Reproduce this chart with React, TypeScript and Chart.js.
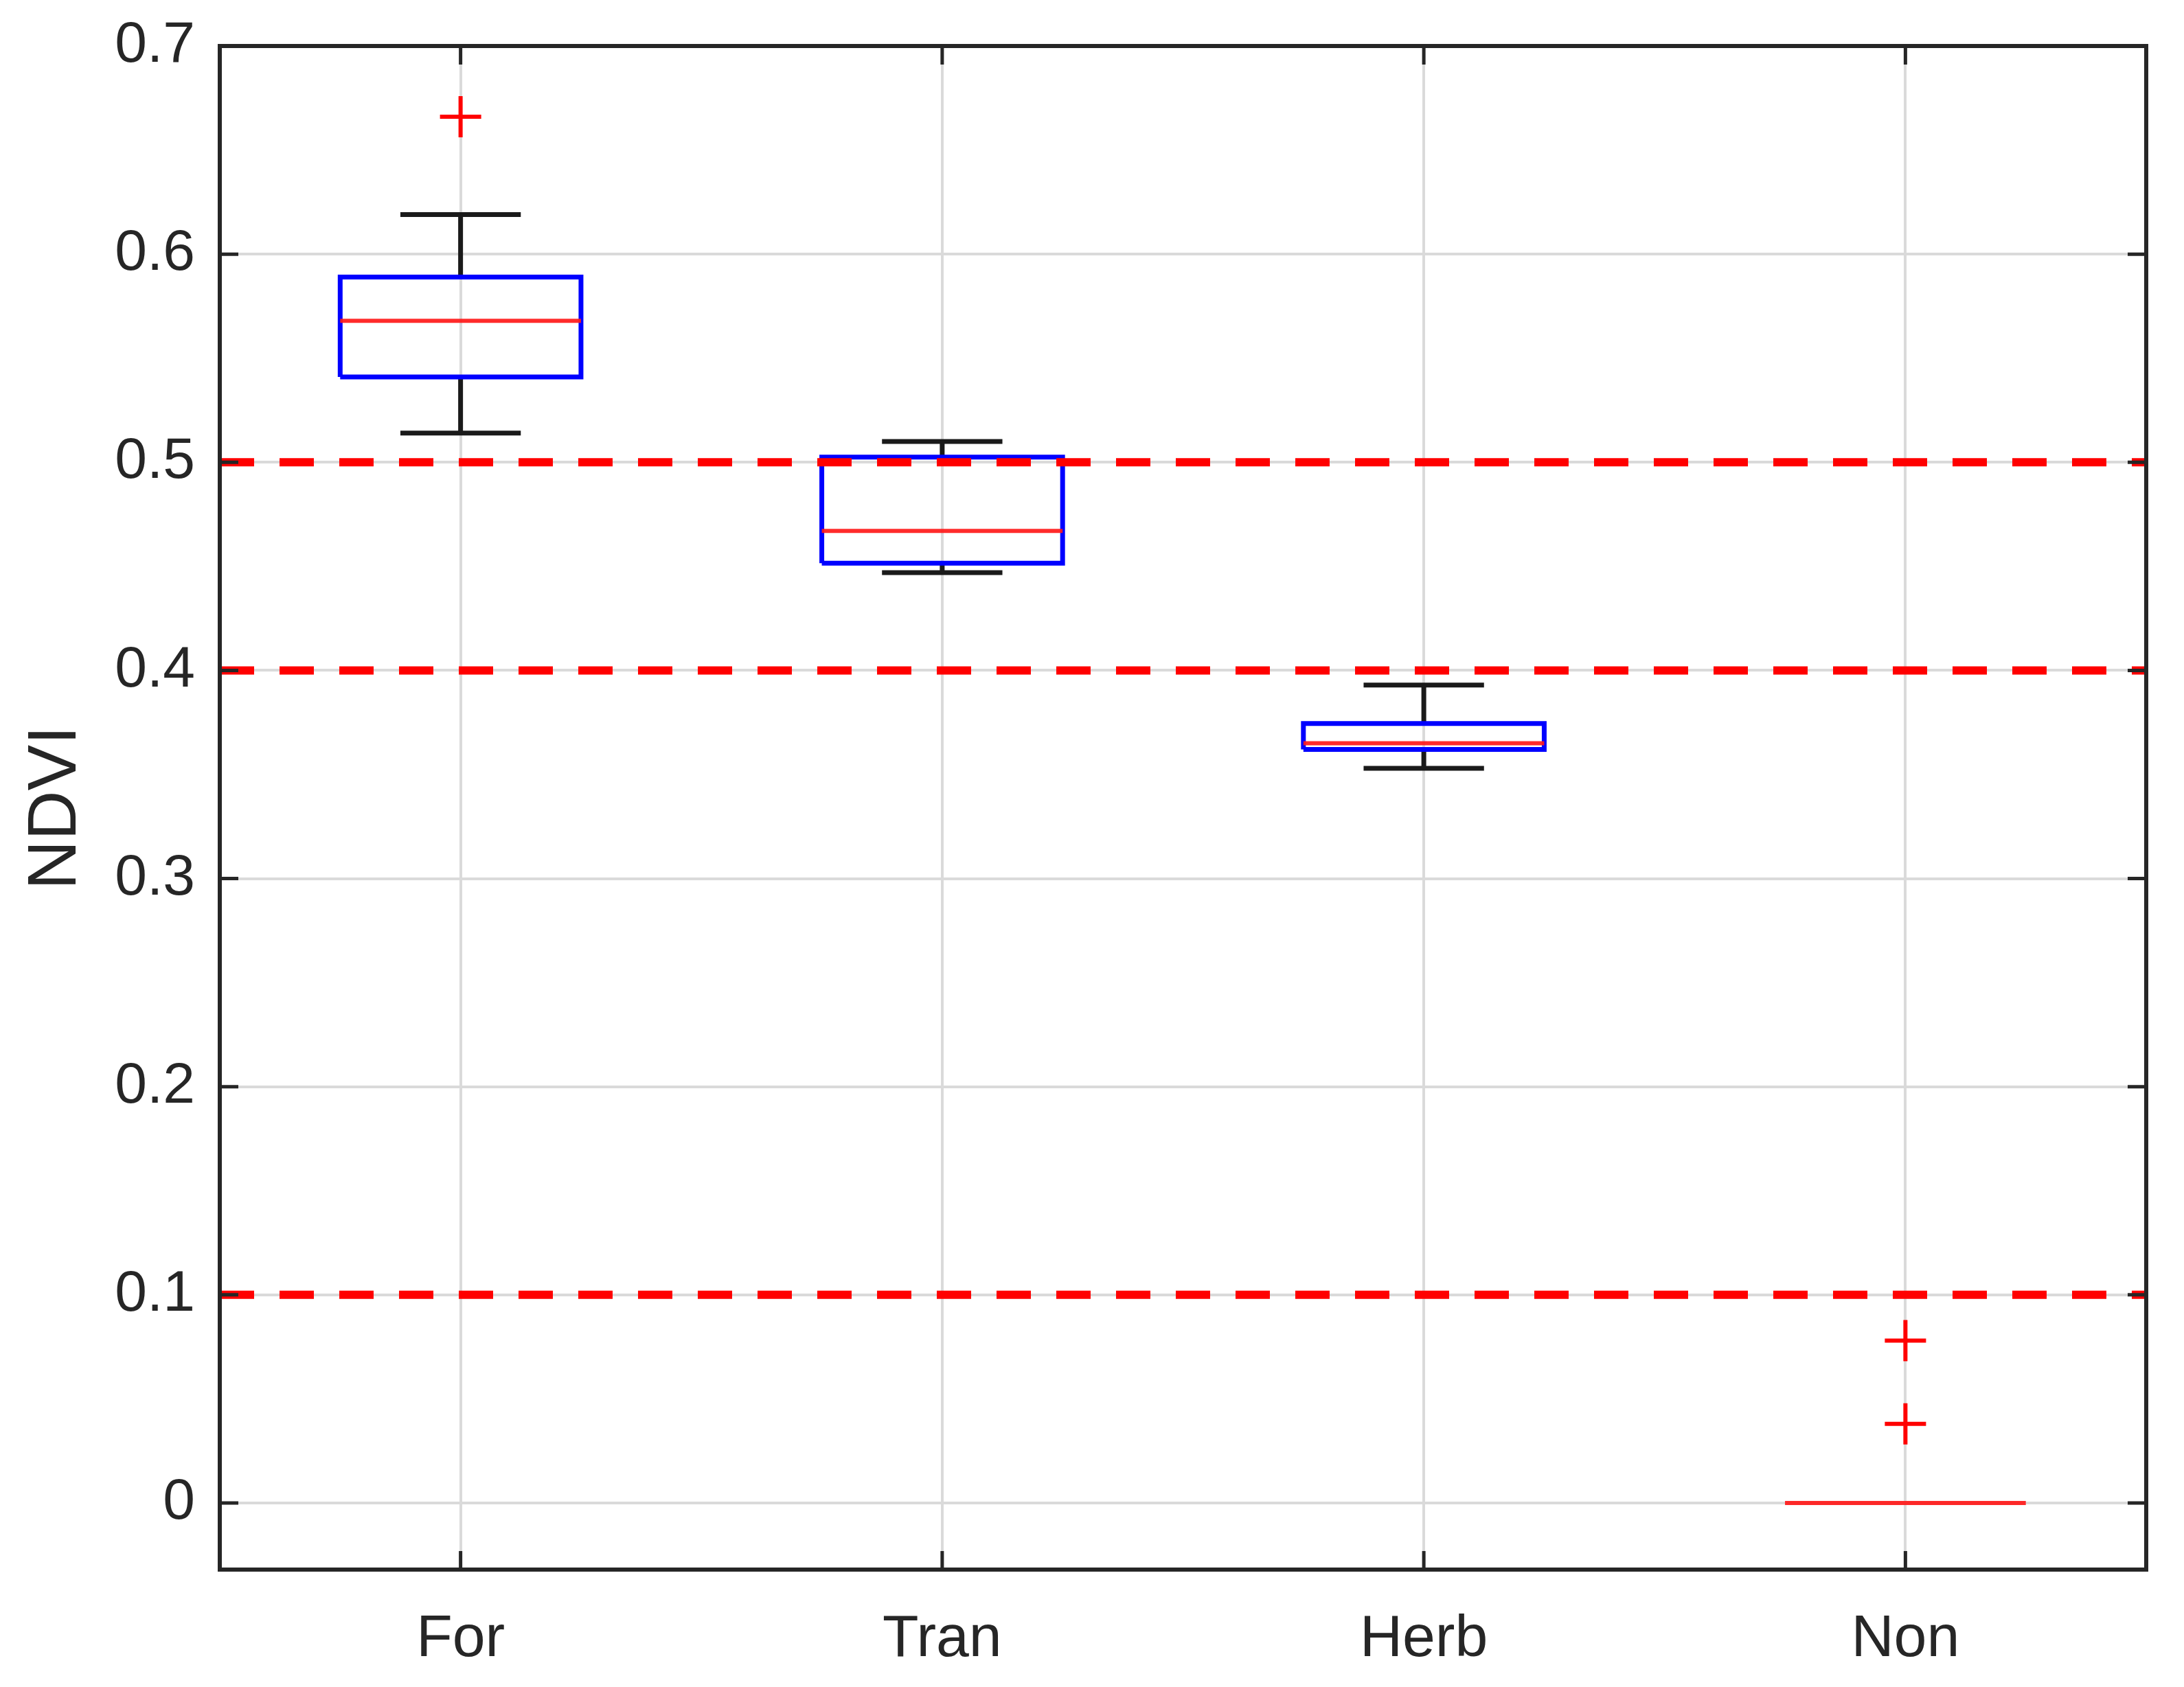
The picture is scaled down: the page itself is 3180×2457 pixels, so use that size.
import React, { useEffect, useRef } from "react";
import { Chart, registerables } from "chart.js";

Chart.register(...registerables);

// ---- data ----
const categories = ["For", "Tran", "Herb", "Non"];
const whiskerLow = [0.514, 0.447, 0.353, 0];
const quartile1 = [0.541, 0.4515, 0.362, 0];
const medians = [0.568, 0.467, 0.365, 0];
const quartile3 = [0.589, 0.5025, 0.3745, 0];
const whiskerHigh = [0.619, 0.51, 0.393, 0];
const outlierPositions = [1, 4, 4];
const outlierValues = [0.666, 0.078, 0.038];
const thresholds = [0.5, 0.4, 0.1];
const yTicks = [0, 0.1, 0.2, 0.3, 0.4, 0.5, 0.6, 0.7];
const yTickLabels = ["0", "0.1", "0.2", "0.3", "0.4", "0.5", "0.6", "0.7"];
const yLabel = "NDVI";

const W = 3180;
const H = 2457;
const FONT = "'Liberation Sans', Arial, sans-serif";
const TEXT = "#262626";

type P = { x: number; y: number | null };

function buildBoxes(): P[] {
  const pts: P[] = [];
  categories.forEach((_, i) => {
    if (quartile3[i] - quartile1[i] < 1e-9) return;
    const c = i + 1;
    pts.push({ x: c - 0.25, y: quartile1[i] });
    pts.push({ x: c + 0.25, y: quartile1[i] });
    pts.push({ x: c + 0.25, y: quartile3[i] });
    pts.push({ x: c - 0.25, y: quartile3[i] });
    pts.push({ x: c - 0.25, y: quartile1[i] });
    pts.push({ x: c, y: null });
  });
  return pts;
}

function buildWhiskers(): P[] {
  const pts: P[] = [];
  categories.forEach((_, i) => {
    const c = i + 1;
    if (whiskerHigh[i] > quartile3[i]) {
      pts.push({ x: c, y: quartile3[i] });
      pts.push({ x: c, y: whiskerHigh[i] });
      pts.push({ x: c, y: null });
      pts.push({ x: c - 0.125, y: whiskerHigh[i] });
      pts.push({ x: c + 0.125, y: whiskerHigh[i] });
      pts.push({ x: c, y: null });
    }
    if (whiskerLow[i] < quartile1[i]) {
      pts.push({ x: c, y: quartile1[i] });
      pts.push({ x: c, y: whiskerLow[i] });
      pts.push({ x: c, y: null });
      pts.push({ x: c - 0.125, y: whiskerLow[i] });
      pts.push({ x: c + 0.125, y: whiskerLow[i] });
      pts.push({ x: c, y: null });
    }
  });
  return pts;
}

function buildMedians(): P[] {
  const pts: P[] = [];
  categories.forEach((_, i) => {
    const c = i + 1;
    pts.push({ x: c - 0.25, y: medians[i] });
    pts.push({ x: c + 0.25, y: medians[i] });
    pts.push({ x: c, y: null });
  });
  return pts;
}

function buildThresholds(): P[] {
  const pts: P[] = [];
  thresholds.forEach((t) => {
    pts.push({ x: 0.5, y: t });
    pts.push({ x: 4.5, y: t });
    pts.push({ x: 2.5, y: null });
  });
  return pts;
}

const framePlugin = {
  id: "matlabFrame",
  afterDatasetsDraw(chart: any) {
    const { ctx, chartArea, scales } = chart;
    const { left, right, top, bottom } = chartArea;
    const tl = 27;
    ctx.save();
    ctx.strokeStyle = TEXT;
    ctx.lineWidth = 5;
    ctx.beginPath();
    yTicks.forEach((v) => {
      const py = scales.y.getPixelForValue(v);
      ctx.moveTo(left, py);
      ctx.lineTo(left + tl, py);
      ctx.moveTo(right, py);
      ctx.lineTo(right - tl, py);
    });
    categories.forEach((_, i) => {
      const px = scales.x.getPixelForValue(i + 1);
      ctx.moveTo(px, bottom);
      ctx.lineTo(px, bottom - tl);
      ctx.moveTo(px, top);
      ctx.lineTo(px, top + tl);
    });
    ctx.stroke();
    ctx.lineWidth = 6;
    ctx.strokeRect(left, top, right - left, bottom - top);
    ctx.restore();
  },
};

function zeroPadding(scale: any) {
  scale.paddingTop = 0;
  scale.paddingBottom = 0;
  scale.paddingLeft = 0;
  scale.paddingRight = 0;
}

export default function App() {
  const ref = useRef<HTMLCanvasElement | null>(null);

  useEffect(() => {
    document.body.style.margin = "0";
    document.body.style.overflow = "hidden";
    const canvas = ref.current;
    if (!canvas) return;

    const chart = new Chart(canvas, {
      type: "line",
      data: {
        datasets: [
          {
            label: "thresholds",
            data: buildThresholds() as any,
            borderColor: "#ff0000",
            borderWidth: 12,
            borderDash: [50, 37],
            borderCapStyle: "butt",
            pointRadius: 0,
            spanGaps: false,
            order: 0,
          },
          {
            label: "outliers",
            data: outlierValues.map((v, i) => ({ x: outlierPositions[i], y: v })) as any,
            showLine: false,
            pointStyle: "cross",
            pointRadius: 30,
            pointBorderWidth: 6,
            pointBorderColor: "#ff0000",
            pointBackgroundColor: "#ff0000",
            borderColor: "#ff0000",
            order: 1,
          },
          {
            label: "medians",
            data: buildMedians() as any,
            borderColor: "rgba(255,25,25,0.92)",
            borderWidth: 6,
            pointRadius: 0,
            spanGaps: false,
            order: 2,
          },
          {
            label: "boxes",
            data: buildBoxes() as any,
            borderColor: "#0000ff",
            borderWidth: 7,
            pointRadius: 0,
            spanGaps: false,
            order: 3,
          },
          {
            label: "whiskers",
            data: buildWhiskers() as any,
            borderColor: "#1a1a1a",
            borderWidth: 7,
            pointRadius: 0,
            spanGaps: false,
            order: 4,
          },
        ],
      },
      options: {
        responsive: false,
        animation: false,
        devicePixelRatio: 1,
        layout: { padding: { top: 67, right: 55, left: 0, bottom: 0 } },
        plugins: {
          legend: { display: false },
          tooltip: { enabled: false },
        },
        elements: { line: { tension: 0 } },
        scales: {
          x: {
            type: "linear",
            min: 0.5,
            max: 4.5,
            afterBuildTicks: (scale: any) => {
              scale.ticks = categories.map((_, i) => ({ value: i + 1 }));
            },
            afterFit: (scale: any) => {
              scale.height = H - 2286;
              zeroPadding(scale);
            },
            ticks: {
              autoSkip: false,
              maxRotation: 0,
              padding: 51,
              color: TEXT,
              font: { family: FONT, size: 86 },
              callback: (v: any) => categories[Math.round(Number(v)) - 1] ?? "",
            },
            grid: { color: "#dadada", lineWidth: 4, drawTicks: false },
            border: { display: false },
          },
          y: {
            type: "linear",
            min: -0.032,
            max: 0.7,
            afterBuildTicks: (scale: any) => {
              scale.ticks = yTicks.map((v) => ({ value: v }));
            },
            afterFit: (scale: any) => {
              scale.width = 320;
              zeroPadding(scale);
            },
            ticks: {
              autoSkip: false,
              padding: 36,
              color: TEXT,
              font: { family: FONT, size: 84 },
              callback: (v: any) => {
                const idx = yTicks.findIndex((t) => Math.abs(t - Number(v)) < 1e-6);
                return idx >= 0 ? yTickLabels[idx] : "";
              },
            },
            title: {
              display: true,
              text: yLabel,
              color: TEXT,
              font: { family: FONT, size: 100 },
              padding: { top: 22, bottom: 0 },
            },
            grid: { color: "#dadada", lineWidth: 4, drawTicks: false },
            border: { display: false },
          },
        },
      },
      plugins: [framePlugin],
    } as any);

    return () => {
      chart.destroy();
    };
  }, []);

  return (
    <canvas
      ref={ref}
      width={W}
      height={H}
      style={{ display: "block", width: W + "px", height: H + "px", background: "#ffffff" }}
    />
  );
}
